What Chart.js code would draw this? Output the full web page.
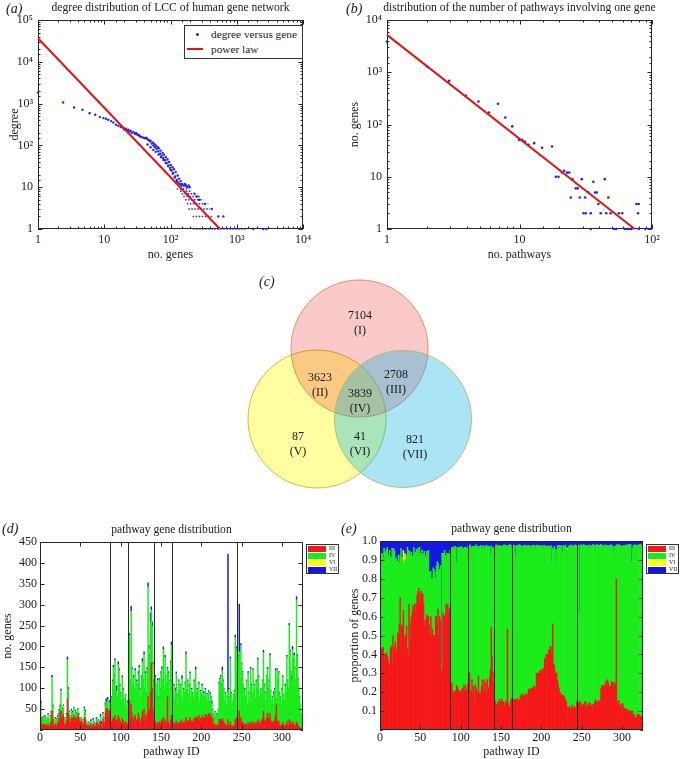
<!DOCTYPE html>
<html lang="en">
<head>
<meta charset="utf-8">
<title>human gene network figure</title>
<script src="https://cdn.jsdelivr.net/npm/chart.js@4.4.1/dist/chart.umd.min.js"></script>
<style>
    html, body { margin: 0; padding: 0; background: #fff; }
    #figure { position: relative; width: 680px; height: 759px; overflow: hidden;
              font-family: "Liberation Serif", "DejaVu Serif", serif; color: #1a1a1a; }
    #figure canvas { position: absolute; }
    .tag { position: absolute; font-size: 14px; font-style: italic; line-height: 16px; }
    .box-legend { position: absolute; box-sizing: border-box; border: 1px solid #333; background: #fff; }
    .box-legend span { position: absolute; white-space: nowrap; }
</style>
</head>
<body>
<div id="figure">
    <canvas id="graficoA" width="340" height="265" style="left:0;top:0"></canvas>
    <canvas id="graficoB" width="340" height="265" style="left:340px;top:0"></canvas>
    <canvas id="graficoC" width="280" height="230" style="left:220px;top:260px"></canvas>
    <canvas id="graficoD" width="340" height="254" style="left:0;top:505px"></canvas>
    <canvas id="graficoE" width="340" height="254" style="left:340px;top:505px"></canvas>

    <div class="tag" style="left:6px;top:1px">(a)</div>
    <div class="tag" style="left:346px;top:1px">(b)</div>
    <div class="tag" style="left:259px;top:274px">(c)</div>
    <div class="tag" style="left:2px;top:521px">(d)</div>
    <div class="tag" style="left:341px;top:521px">(e)</div>

    <div class="box-legend" style="left:184px;top:25px;width:119px;height:34px;font-size:11.3px">
        <span style="left:11px;top:7px;width:3px;height:3px;border-radius:50%;background:#2626e0"></span>
        <span style="left:26px;top:0;line-height:16px">degree versus gene</span>
        <span style="left:2px;top:22px;width:16px;height:2px;background:#e01515"></span>
        <span style="left:26px;top:15px;line-height:16px">power law</span>
    </div>

    <div id="legendD" class="box-legend" style="left:306px;top:544px;width:33px;height:30px;font-size:6px"></div>
    <div id="legendE" class="box-legend" style="left:646px;top:544px;width:33px;height:30px;font-size:6px"></div>
</div>

<script>
// ================= DATA =================
const logTickLabels = { 1: "1", 10: "10", 100: "10²", 1000: "10³", 10000: "10⁴", 100000: "10⁵" };

// (a) degree versus gene (LCC of the human gene network)
const degreeGenes = [
    1, 2.4, 3.5, 4.7, 6, 7.3, 8.6, 9.7, 10.6, 11.5, 12.7, 13.7, 15, 16.3, 17.7, 19.4,
    21.3, 23.1, 25, 27.5, 30.2, 32.7, 34.6, 38, 41.2, 44.7, 49.1, 52, 55.1, 58.3, 61.8,
    65.4, 69.5, 73.6, 78, 82.6, 87.5, 92.9, 98.2, 104, 110, 117, 124, 131, 139, 147,
    20, 22, 24, 26, 29, 31, 33, 36, 40, 43, 47, 50, 54, 57, 60, 64, 67, 71, 76, 80,
    85, 90, 95, 101, 107, 113, 120, 128, 135, 143, 150, 158, 165, 172, 180, 188,
    45, 50, 55, 60, 66, 72, 78, 85, 92, 100, 108, 116, 125,
    166, 195, 230, 250, 270, 330, 420, 526, 627, 1780, 2520, 2820
];
const degreeValues = [
    1840, 1060, 810, 710, 590, 540, 475, 450, 433, 410, 381, 354, 312, 295, 275, 260,
    251, 237, 224, 209, 198, 180, 165, 156, 148, 142, 125, 110, 99, 90, 82,
    72, 63, 57, 50, 44, 38, 33, 29, 25, 22, 18, 15, 13, 12, 11,
    240, 230, 215, 200, 190, 185, 175, 160, 150, 152, 135, 130, 118, 108, 100, 92, 85, 75, 66, 60,
    52, 46, 40, 34, 30, 27, 23, 19, 16, 14, 12, 11, 12, 11, 10, 11,
    105, 90, 78, 70, 60, 52, 45, 38, 32, 26, 21, 17, 14,
    11, 10, 7, 6, 5, 4, 3, 2, 2, 1, 1, 1
];
// genes sharing one low degree: [degree, first gene, last gene]
const degreeRuns = [
    [9, 124, 176], [8, 139, 209], [7, 147, 248], [6, 156, 279], [5, 166, 313],
    [4, 176, 372], [3, 186, 395], [2, 216, 443], [1, 221, 1413]
];
const powerLawGenes = [1, 558];
const powerLawDegree = [36600, 1];

// (b) number of pathways involving one gene
const pathwayNumber = [
    1, 2, 2.95, 3.94, 4.9, 5.89, 6.88, 7.81, 8.81, 9.9, 10.5, 11, 11.7, 12.9, 14.8,
    17.6, 18.8, 19.7, 20.9, 21.7, 22.8, 23.7, 25.1, 26.6, 27.5, 24.4, 28.5, 29.5, 30.4, 31.3,
    31.6, 33.1, 34.5, 36.1, 37.2, 38.3, 39.4, 41, 44, 45.2, 46.8, 48.7, 51.6, 53.7, 56.2,
    59.6, 62.4, 65, 67.6, 70, 76.3, 79.4, 78.5, 79.4, 89, 97, 34.5
];
const pathwayGeneCount = [
    3860, 1285, 685, 354, 275, 170, 249, 136, 92, 51, 51, 47, 41, 44, 36,
    38, 10, 10, 12, 13, 12, 12, 9, 6, 6, 4, 4, 9, 2, 4,
    2, 5, 2, 8, 5, 5, 3, 2, 9, 2, 4, 2, 1, 1, 2,
    2, 1, 1, 1, 1, 3, 3, 2, 1, 1, 1, 1
];
const powerLawPathways = [1, 74];
const powerLawPathwayGenes = [5200, 1];

// (c) gene sets
const vennRegions = ["I", "II", "III", "IV", "V", "VI", "VII"];
const vennCounts = [7104, 3623, 2708, 3839, 87, 41, 821];

// (d)/(e) genes per pathway, by class
const geneClasses = ["III", "IV", "VI", "VII"];
const genesIII = [
    // 1-86
    30,13,12,14,10,13,12,9,11,15, 9,7,15,20,45,30,10,8,14,9, 12,18,20,28,42,45,25,30,38,12,
    15,14,22,75,40,30,20,12,30,28, 25,35,20,30,28,25,38,30,20,18, 22,14,18,10,30,28,12,11,9,12,
    6,10,15,5,8,14,10,6,9,18, 10,16,6,12,22,6,5,26,18,12, 40,50,35,52,28,45,
    // 87-109
    10,12,20,25,30,26,35,20,25,18,35,30,22,18,15,28,22,18,12,20,10,15,16,
    // 110-141
    30,70,25,60,40,20,30,15,35,20,25,22,40,30,20,15,30,45,25,50,20,35,18,40,80,45,50,90,160,100,50,30,
    // 142-163
    15,20,12,15,18,10,20,15,20,25,18,30,12,25,20,15,80,20,15,12,25,35,
    // 164-243
    20,14,18,12,16,22,14,10,18,15, 20,14,25,13,18,16,22,30,18,22, 18,24,30,15,22,20,18,28,17,32,
    27,30,24,35,22,28,27,35,24,30, 30,38,28,35,30,40,29,40,35,28, 28,14,12,14,9,12,10,12,25,25,
    25,20,28,22,18,12,14,9,10,25, 12,10,20,10,8,8,10,12,25,15,
    // 244-325
    30,20,25,45,15,30,20,18,15,12, 15,12,14,8,18,13,10,20,14,10, 20,12,16,12,18,15,25,20,12,15,
    22,20,28,45,25,22,18,30,40,25, 28,40,22,18,20,15,20,25,35,60, 20,18,22,12,10,8,14,18,10,8,
    12,10,20,12,10,25,20,14,12,20, 12,15,10,8,20,15,10,8,6,4,3,2
];
const genesIV = [
    34,15,14,15,14,20,16,12,16,22, 15,12,17,21,81,26,13,9,13,11, 13,13,17,16,13,49,16,20,15,10,
    12,11,15,94,57,12,13,11,17,13, 10,18,8,15,12,7,12,8,9,5, 6,5,5,4,22,16,8,6,5,7,
    4,5,6,3,4,10,7,4,3,8, 6,6,4,5,11,1,9,13,10,7, 20,17,21,20,14,20,
    28,40,57,91,120,101,131,72,69,59,122,112,84,69,53,97,74,54,46,62,38,52,47,
    106,156,92,224,105,84,96,82,107,68,91,85,94,120,77,63,96,118,92,131,77,100,70,105,262,151,125,170,127,149,107,86,
    82,107,76,92,101,68,100,82,116,121,99,163,81,149,107,92,66,116,102,86,136,168,
    107,74,89,61,76,113,69,48,99,78, 87,64,97,55,79,72,90,152,74,95, 65,83,105,53,75,68,60,89,56,113,
    61,67,54,77,46,64,56,72,49,58, 48,59,40,50,43,52,37,47,43,34, 20,24,22,29,17,26,27,36,87,97,
    102,87,113,95,79,56,74,49,67,66, 85,68,150,78,50,60,73,80,197,112,
    164,117,151,141,102,170,137,119,93,81, 82,66,103,50,118,75,58,126,93,73, 124,76,91,61,99,83,142,107,66,78,
    76,63,89,140,82,66,50,97,106,72, 89,138,71,50,58,43,64,72,108,13, 124,99,115,76,68,50,83,109,73,60,
    95,78,155,105,88,225,167,123,104,172, 154,164,137,109,291,160,110,90,72,55,36,27
];
const genesVI = [
    0,0,0,0,0,0,0,0,0,0, 0,0,0,0,0,0,0,0,0,0, 0,0,0,0,0,0,0,0,4,1, 1,0,0,0,0,0,0,0,0,0,
    0,0,0,0,0,0,0,0,0,0, 0,0,0,0,0,0,0,0,0,0, 0,0,0,0,0,0,0,0,0,0, 0,0,0,0,0,0,0,0,0,0,
    0,0,0,0,0,0,0,0,0,0, 0,0,0,0,0,0,0,0,0,0, 0,0,0,0,0,0,0,0,0,0, 0,0,0,0,0,0,0,0,0,0,
    0,0,0,0,0,0,0,0,0,0, 0,0,0,0,0,0,0,0,0,0, 0,0,0,0,0,0,0,0,0,0, 0,0,0,0,0,0,0,0,0,0,
    0,0,0,0,0,0,0,0,0,0, 0,0,0,0,0,0,0,0,0,0, 0,0,0,0,0,0,0,0,0,0, 0,0,0,0,0,0,0,0,0,0,
    0,0,0,0,0,0,0,0,0,0, 0,0,0,0,0,0,0,0,0,0, 0,0,0,0,0,0,0,0,0,0, 0,1,0,0,0,0,0,0,0,0,
    0,0,0,0,0,0,0,0,2,0, 0,0,0,0,0,0,0,0,0,0, 0,0,0,0,0,0,0,0,0,1, 0,0,0,0,0,0,0,0,0,0,
    0,0,0,0,0,0,0,0,0,0, 0,0,0,0,0,0,0,0,0,0, 0,0,0,0,0,0,0,0,0,0, 0,0,0,0,0,0,0,0,0,0,
    0,0,0,0,0
];
const genesVII = [
    6,2,2,3,1,2,2,1,1,3, 2,1,3,4,5,4,1,1,3,2, 3,4,3,6,5,4,4,5,3,2,
    2,3,3,6,5,3,2,2,3,4, 3,2,2,3,2,3,2,2,1,2, 2,1,2,1,3,4,2,1,1,1,
    2,3,4,2,3,4,3,2,3,4, 2,3,2,3,5,13,1,3,2,1, 5,8,4,6,3,5,
    2,3,3,4,5,6,5,3,12,3,6,5,4,3,2,5,4,3,2,3,2,3,2,
    4,5,3,12,5,3,4,3,5,2,4,3,6,5,3,2,4,8,3,6,3,5,2,5,10,7,5,20,8,10,6,4,
    3,4,2,3,4,2,3,3,4,5,3,6,2,5,3,3,4,4,3,2,4,8,
    3,2,3,2,8,4,2,2,3,2, 3,2,8,2,3,2,3,5,3,3, 2,3,4,2,3,2,2,3,2,6,
    2,3,2,3,2,3,2,3,2,4, 2,3,2,3,2,3,2,3,2,8, 2,2,1,2,4,2,1,2,3,3,
    4,3,10,3,3,2,2,2,3,330, 3,2,5,2,2,2,2,3,5,3,
    5,3,4,115,3,5,3,3,2,2, 3,2,3,2,4,2,2,4,3,2, 3,2,3,2,3,2,4,3,2,2,
    2,2,3,6,3,2,2,3,4,3, 3,5,2,2,2,2,8,3,4,2, 3,3,3,2,2,2,3,3,2,2,
    3,2,4,3,2,5,4,3,15,8, 4,6,3,3,8,5,3,2,2,1,1,1
];
const pathwayBreaks = [87, 109, 141, 163, 244];
const pathwayIds = genesIII.map((_, i) => i + 1);

// ================= STYLE / LAYOUT =================
const FONT = "'Liberation Serif', 'DejaVu Serif', serif";
const INK = "#1a1a1a";
const DOT_BLUE = "#2626e0";
const LINE_RED = "#e01515";
const classColors = ["#f41818", "#1aec1a", "#ffff10", "#1616e4"];

// circles drawn yellow, red, blue (pixel units of the venn canvas)
const vennCircles = [
    { x: 97, y: 159, r: 69, fill: "rgba(255,255,20,0.40)", edge: "rgba(185,185,40,0.85)" },
    { x: 139.5, y: 88.5, r: 68.5, fill: "rgba(235,40,40,0.25)", edge: "rgba(220,130,80,0.85)" },
    { x: 183, y: 159, r: 68.5, fill: "rgba(12,178,226,0.35)", edge: "rgba(170,190,80,0.85)" }
];
const vennLabelPos = [[140, 56], [100, 118], [176, 115], [140, 134], [78, 177], [140, 177], [195, 180]];

Chart.defaults.font.family = FONT;
Chart.defaults.color = INK;

const common = { responsive: false, animation: false, events: [] };

// ================= HELPERS =================
function toXY(xs, ys) {
    return xs.map((x, i) => ({ x, y: ys[i] }));
}

function fixedSize(px) {
    return scale => {
        if (scale.isHorizontal()) scale.height = px;
        else scale.width = px;
    };
}

function logLabel(value) {
    const k = Math.round(value);
    return Math.abs(value - k) < 1e-6 && logTickLabels[k] ? logTickLabels[k] : "";
}

function axisBase(title, size, tickPad, titlePad) {
    return {
        afterFit: fixedSize(size),
        grid: { display: false, drawTicks: false },
        border: { display: false },
        title: { display: true, text: title, color: INK, font: { size: 12 }, padding: titlePad },
        ticks: { autoSkip: false, maxRotation: 0, minRotation: 0, padding: tickPad, color: INK, font: { size: 12 } }
    };
}

function logAxis(min, max, title, size, tickPad, titlePad) {
    const a = axisBase(title, size, tickPad, titlePad);
    a.type = "logarithmic";
    a.min = min;
    a.max = max;
    a.ticks.callback = logLabel;
    return a;
}

function linearAxis(min, max, step, title, size, tickPad, titlePad, label) {
    const a = axisBase(title, size, tickPad, titlePad);
    a.type = "linear";
    a.min = min;
    a.max = max;
    a.offset = false;
    a.stacked = true;
    a.ticks.stepSize = step;
    a.ticks.includeBounds = false;
    a.ticks.callback = label;
    return a;
}

function drawBox(chart, opts) {
    const { ctx, chartArea: a, scales } = chart;
    const line = (x1, y1, x2, y2) => {
        ctx.beginPath(); ctx.moveTo(x1, y1); ctx.lineTo(x2, y2); ctx.stroke();
    };
    ctx.save();
    ctx.lineWidth = 1;
    ctx.strokeStyle = opts.breakColor || "#222";
    (opts.breaks || []).forEach(b => {
        const px = Math.round(scales.x.getPixelForValue(b)) + 0.5;
        line(px, a.top, px, a.bottom);
    });
    ctx.strokeStyle = "#262626";
    ctx.strokeRect(Math.round(a.left) + 0.5, Math.round(a.top) + 0.5,
        Math.round(a.right - a.left) - 1, Math.round(a.bottom - a.top) - 1);
    scales.x.ticks.forEach(t => {
        const px = Math.round(scales.x.getPixelForValue(t.value)) + 0.5;
        const len = t.label === "" ? 2.5 : 4.5;
        line(px, a.bottom, px, a.bottom - len);
        line(px, a.top, px, a.top + len);
    });
    scales.y.ticks.forEach(t => {
        const py = Math.round(scales.y.getPixelForValue(t.value)) + 0.5;
        const len = t.label === "" ? 2.5 : 4.5;
        line(a.left, py, a.left + len, py);
        line(a.right, py, a.right - len, py);
    });
    ctx.restore();
}

// box, inward ticks, separators and title centred on the plot area
const axesBox = {
    id: "axesBox",
    beforeDatasetsDraw(chart, args, opts) {
        if (opts.under) drawBox(chart, opts);
    },
    afterDatasetsDraw(chart, args, opts) {
        if (!opts.under) drawBox(chart, opts);
    },
    afterDraw(chart, args, opts) {
        if (!opts.title) return;
        const { ctx, chartArea: a } = chart;
        ctx.save();
        ctx.font = "11.6px " + FONT;
        ctx.fillStyle = INK;
        ctx.textAlign = "center";
        ctx.textBaseline = "middle";
        ctx.fillText(opts.title, (a.left + a.right) / 2, a.top - opts.titleGap);
        ctx.restore();
    }
};

const vennText = {
    id: "vennText",
    afterDatasetsDraw(chart) {
        const { ctx, scales: { x, y } } = chart;
        ctx.save();
        ctx.font = "12px " + FONT;
        ctx.fillStyle = INK;
        ctx.textAlign = "center";
        ctx.textBaseline = "middle";
        vennCounts.forEach((n, i) => {
            const [lx, ly] = vennLabelPos[i];
            ctx.fillText(String(n), x.getPixelForValue(lx), y.getPixelForValue(ly));
            ctx.fillText("(" + vennRegions[i] + ")", x.getPixelForValue(lx), y.getPixelForValue(ly + 15));
        });
        ctx.restore();
    }
};

// ================= (a) =================
new Chart(document.getElementById("graficoA"), {
    type: "scatter",
    data: {
        datasets: [
            { label: "power law", data: toXY(powerLawGenes, powerLawDegree), showLine: true,
              borderColor: LINE_RED, borderWidth: 2, pointRadius: 0, order: 0, clip: false },
            { label: "degree versus gene", data: toXY(degreeGenes, degreeValues),
              pointRadius: 1.2, backgroundColor: DOT_BLUE, borderWidth: 0, order: 1, clip: false },
            ...degreeRuns.map(([deg, from, to]) => ({
                data: [{ x: from, y: deg }, { x: to, y: deg }], showLine: true, clip: false,
                borderColor: DOT_BLUE, borderWidth: 1.5, borderDash: [1.5, 1.5], pointRadius: 0, order: 2
            }))
        ]
    },
    options: {
        ...common,
        layout: { padding: { top: 20, right: 37, bottom: 0, left: 0 } },
        scales: {
            x: logAxis(1, 10000, "no. genes", 36, 4, { top: 0, bottom: 3 }),
            y: logAxis(1, 100000, "degree", 38, 5, { top: 8, bottom: 0 })
        },
        plugins: {
            legend: { display: false }, tooltip: { enabled: false },
            axesBox: { title: "degree distribution of LCC of human gene network", titleGap: 12, under: true }
        }
    },
    plugins: [axesBox]
});

// ================= (b) =================
new Chart(document.getElementById("graficoB"), {
    type: "scatter",
    data: {
        datasets: [
            { label: "power law", data: toXY(powerLawPathways, powerLawPathwayGenes), showLine: true,
              borderColor: LINE_RED, borderWidth: 2, pointRadius: 0, order: 0, clip: false },
            { label: "genes", data: toXY(pathwayNumber, pathwayGeneCount),
              pointRadius: 1.3, backgroundColor: DOT_BLUE, borderWidth: 0, order: 1, clip: false }
        ]
    },
    options: {
        ...common,
        layout: { padding: { top: 20, right: 28, bottom: 0, left: 0 } },
        scales: {
            x: logAxis(1, 100, "no. pathways", 36, 4, { top: 0, bottom: 3 }),
            y: logAxis(1, 10000, "no. genes", 47, 5, { top: 8, bottom: 0 })
        },
        plugins: {
            legend: { display: false }, tooltip: { enabled: false },
            axesBox: { title: "distribution of the number of pathways involving one gene", titleGap: 12, under: true }
        }
    },
    plugins: [axesBox]
});

// ================= (c) =================
new Chart(document.getElementById("graficoC"), {
    type: "bubble",
    data: {
        datasets: [{
            data: vennCircles.map(c => ({ x: c.x, y: c.y, r: c.r })),
            backgroundColor: vennCircles.map(c => c.fill),
            borderColor: vennCircles.map(c => c.edge),
            borderWidth: 1,
            clip: false
        }]
    },
    options: {
        ...common,
        layout: { padding: 0, autoPadding: false },
        scales: {
            x: { type: "linear", display: false, min: 0, max: 280 },
            y: { type: "linear", display: false, min: 0, max: 230, reverse: true }
        },
        plugins: { legend: { display: false }, tooltip: { enabled: false } }
    },
    plugins: [vennText]
});

// ================= (d) / (e) =================
const classSeries = [genesIII, genesIV, genesVI, genesVII];
const pathwayTotals = pathwayIds.map((_, i) => classSeries.reduce((s, arr) => s + arr[i], 0));
const classShares = classSeries.map(arr => arr.map((v, i) => v / pathwayTotals[i]));

function stackedDatasets(series) {
    return series.map((values, k) => ({
        label: geneClasses[k],
        data: values.map((v, i) => ({ x: pathwayIds[i], y: v })),
        backgroundColor: classColors[k],
        borderWidth: 0,
        barPercentage: 1,
        categoryPercentage: 1
    }));
}

function pathwayChart(id, series, yAxis, padTop) {
    return new Chart(document.getElementById(id), {
        type: "bar",
        data: { datasets: stackedDatasets(series) },
        options: {
            ...common,
            layout: { padding: { top: padTop, right: 37, bottom: 0, left: 0 } },
            scales: {
                x: linearAxis(0, 326, 50, "pathway ID", 29, 1, { top: 0, bottom: 0 }, v => String(v)),
                y: yAxis
            },
            plugins: {
                legend: { display: false }, tooltip: { enabled: false },
                axesBox: { title: "pathway gene distribution", titleGap: 12, breaks: pathwayBreaks, breakColor: "#2a2a2a" }
            }
        },
        plugins: [axesBox]
    });
}

pathwayChart("graficoD", classSeries,
    linearAxis(0, 450, 50, "no. genes", 40, 3, { top: 1, bottom: 0 }, v => (v === 0 ? "" : String(v))), 37);
pathwayChart("graficoE", classShares,
    linearAxis(0, 1, 0.1, "proportion of genes", 40, 3, { top: 8, bottom: 0 }, v => (v < 0.01 ? "" : v.toFixed(1))), 36);

// ================= LEGENDS (d, e) =================
function fillLegend(id) {
    document.getElementById(id).innerHTML = geneClasses.map((name, k) =>
        `<span style="left:1px;top:${k * 7 + 0.5}px;width:18px;height:6px;background:${classColors[k]}"></span>` +
        `<span style="left:22px;top:${k * 7}px;line-height:7px">${name}</span>`
    ).join("");
}
fillLegend("legendD");
fillLegend("legendE");
</script>
</body>
</html>
